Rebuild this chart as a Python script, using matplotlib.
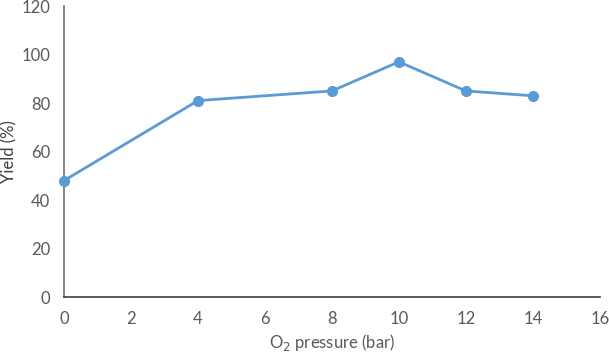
import matplotlib
matplotlib.use("Agg")
import matplotlib.pyplot as plt

pressure = [0, 4, 8, 10, 12, 14]
yield_pct = [48, 81, 85, 97, 85, 83]
xticks = [0, 2, 4, 6, 8, 10, 12, 14, 16]
yticks = [0, 20, 40, 60, 80, 100, 120]

plt.rcParams['font.family'] = ['Lato', 'DejaVu Sans']

fig = plt.figure(figsize=(6.09, 3.57), dpi=100)
ax = fig.add_axes([0.105, 0.168, 0.880, 0.815])
ax.plot(pressure, yield_pct, color='#5B9BD5', linewidth=2, marker='o', markersize=7, clip_on=False, zorder=3)
ax.set_xlim(0, 16)
ax.set_ylim(0, 120)
ax.set_xticks(xticks)
ax.set_yticks(yticks)
for s in ['top', 'right']:
    ax.spines[s].set_visible(False)
ax.spines['left'].set_color('#6e6e6e')
ax.spines['bottom'].set_color('#404040')
ax.spines['left'].set_linewidth(1.2)
ax.spines['bottom'].set_linewidth(1.2)
ax.tick_params(axis='both', length=0, labelsize=12, colors='#595959')
ax.tick_params(axis='x', pad=10)
ax.tick_params(axis='y', pad=10)
ax.set_xlabel('O$_2$ pressure (bar)', fontsize=12, color='#595959', labelpad=4)
ax.set_ylabel('Yield (%)', fontsize=12, color='#404040', labelpad=3)
fig.savefig('out.png', dpi=100)
